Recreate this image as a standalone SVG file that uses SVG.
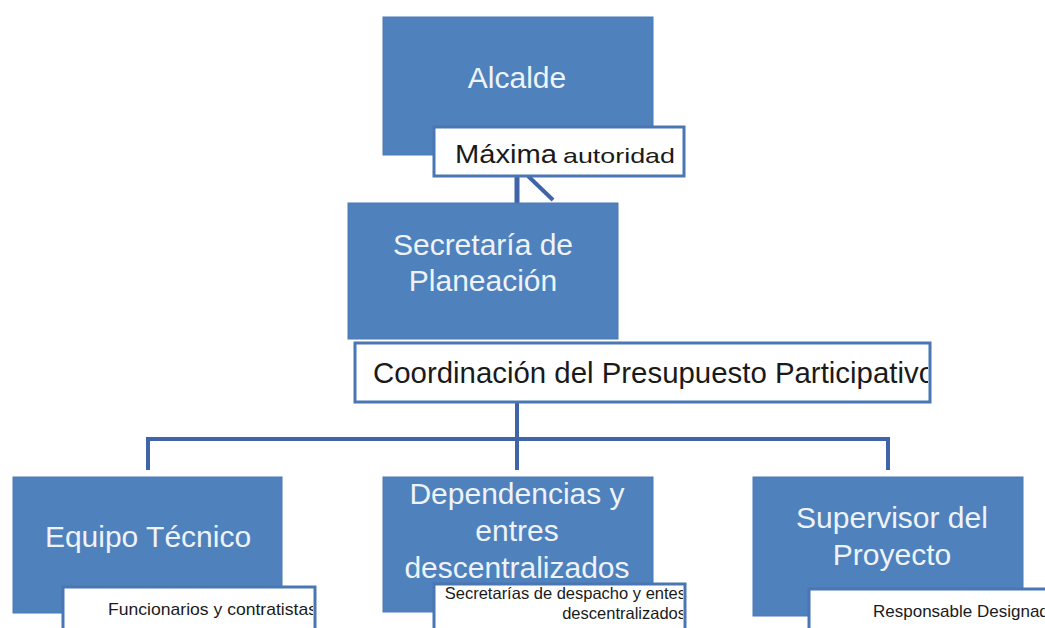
<svg xmlns="http://www.w3.org/2000/svg" width="1045" height="628" viewBox="0 0 1045 628">
<style>
.box{fill:#4F81BD;stroke:#4A7AB6;stroke-width:1}
.lbl{fill:#FFFFFF;stroke:#4A76B4;stroke-width:3}
.main{font-family:"Liberation Sans",Arial,sans-serif;font-size:30px;fill:#EEF3FA;text-anchor:middle}
.sub{font-family:"Liberation Sans",Arial,sans-serif;fill:#1A1A1A}
.conn{fill:none;stroke:#3F64A8;stroke-width:4}
</style>
<defs>
<clipPath id="cCoord"><rect x="356" y="344" width="572" height="57"/></clipPath>
<clipPath id="cFunc"><rect x="64" y="588" width="249" height="40"/></clipPath>
<clipPath id="cSec"><rect x="436" y="585" width="247" height="43"/></clipPath>
<clipPath id="cResp"><rect x="810" y="590" width="235" height="38"/></clipPath>
</defs>
<rect width="1045" height="628" fill="#FFFFFF"/>
<g id="connectors">
<line class="conn" x1="517" y1="176" x2="517" y2="204" style="stroke-width:5"/>
<line class="conn" x1="528" y1="176" x2="553" y2="200"/>
<path class="conn" d="M517 402 V439 M148 470 V439 H888 V470 M517 439 V470"/>
</g>
<g id="alcalde">
<rect class="box" x="383" y="17" width="270" height="138"/>
<text class="main" x="517" y="88">Alcalde</text>
</g>
<g id="maxima-autoridad">
<rect class="lbl" x="434" y="127" width="250" height="49"/>
<text class="sub" y="163"><tspan x="455" font-size="25" textLength="102" lengthAdjust="spacingAndGlyphs">Máxima</tspan><tspan x="563" font-size="21" textLength="112" lengthAdjust="spacingAndGlyphs">autoridad</tspan></text>
</g>
<g id="secretaria">
<rect class="box" x="348" y="203" width="270" height="136"/>
<text class="main" x="483" y="255">Secretaría de</text>
<text class="main" x="483" y="291">Planeación</text>
</g>
<g id="coordinacion">
<rect class="lbl" x="355" y="343" width="575" height="59"/>
<text class="sub" x="373" y="383" font-size="29" textLength="562" lengthAdjust="spacingAndGlyphs" clip-path="url(#cCoord)">Coordinación del Presupuesto Participativo</text>
</g>
<g id="equipo-tecnico">
<rect class="box" x="13" y="477" width="269" height="136"/>
<text class="main" x="148" y="547">Equipo Técnico</text>
<rect class="lbl" x="63" y="587" width="252" height="50"/>
<text class="sub" x="108" y="615" font-size="17" textLength="209" lengthAdjust="spacingAndGlyphs" clip-path="url(#cFunc)">Funcionarios y contratistas</text>
</g>
<g id="dependencias">
<rect class="box" x="383" y="477" width="270" height="135"/>
<text class="main" x="517" y="504">Dependencias y</text>
<text class="main" x="517" y="541">entres</text>
<text class="main" x="517" y="578">descentralizados</text>
<rect class="lbl" x="434" y="584" width="251" height="55"/>
<g clip-path="url(#cSec)">
<text class="sub" x="686" y="599" font-size="16.5" text-anchor="end">Secretarías de despacho y entes</text>
<text class="sub" x="686" y="619" font-size="16.5" text-anchor="end">descentralizados</text>
</g>
</g>
<g id="supervisor">
<rect class="box" x="753" y="477" width="270" height="139"/>
<text class="main" x="892" y="528">Supervisor del</text>
<text class="main" x="892" y="565">Proyecto</text>
<rect class="lbl" x="809" y="589" width="250" height="50"/>
<text class="sub" x="873" y="617" font-size="17" clip-path="url(#cResp)">Responsable Designada</text>
</g>
</svg>
